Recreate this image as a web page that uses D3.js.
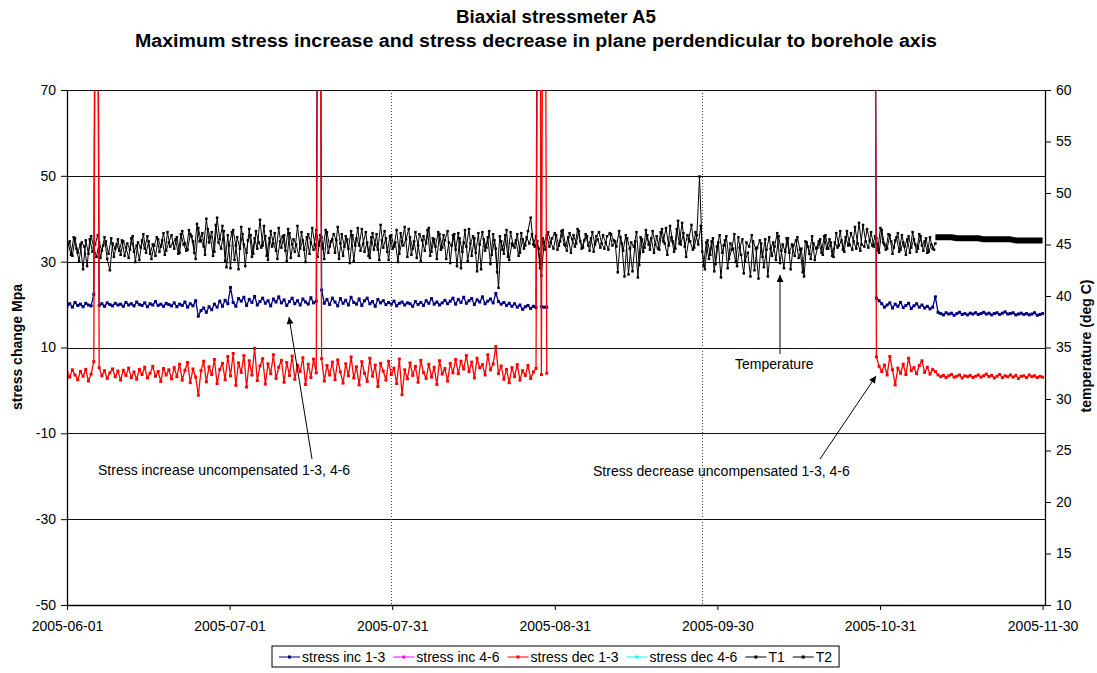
<!DOCTYPE html>
<html>
<head>
<meta charset="utf-8">
<script src="https://cdn.jsdelivr.net/npm/d3@7"></script>
<style>
  body { margin: 0; background: #fff; }
  svg text { font-family: "Liberation Sans", Arial, sans-serif; fill: #000; }
</style>
</head>
<body>
<svg width="1097" height="673"></svg>
<script>
// time axis is in days since 2005-06-01, readings every half day
const sampleStep = 0.5;

const xTickLabels = ["2005-06-01", "2005-07-01", "2005-07-31", "2005-08-31", "2005-09-30", "2005-10-31", "2005-11-30"];
const leftTicks = [70, 50, 30, 10, -10, -30, -50];
const rightTicks = [60, 55, 50, 45, 40, 35, 30, 25, 20, 15, 10];
const eventDays = [60.4, 118.4];

// stress inc 1-3 (MPa), first block from day 0, second block from day 150.5
const incStart1 = 0, incStart2 = 150.5;
const stressInc13a = [
  19.6, 20.2, 19.4, 20.5, 19.8, 20.1, 19.5, 20.3, 19.9, 19.7, 22.4, 200, 19.8, 20.2, 19.6, 20.4, 20.0, 19.7, 20.3, 19.9,
  20.1, 19.6, 20.5, 19.9, 20.2, 19.7, 20.6, 20.0, 19.8, 20.4, 19.5, 20.2, 19.9, 20.7, 19.8, 20.1, 19.6, 20.3, 20.0, 19.7,
  20.4, 19.5, 20.1, 19.8, 20.6, 19.4, 20.2, 19.7, 20.9, 17.3, 18.6, 19.2, 18.2, 19.5, 18.8, 20.1, 19.4, 20.8, 19.6, 21.0,
  20.2, 24.0, 20.5, 19.6, 21.4, 20.8, 21.7, 19.8, 21.2, 20.5, 21.9, 19.9, 20.7, 21.5, 20.3, 20.9, 19.7, 21.3, 20.6, 21.8,
  20.4, 21.1, 19.8, 20.7, 21.5, 20.2, 20.9, 19.9, 21.3, 20.6, 20.1, 21.6, 20.4, 20.8, 200, 23.4, 20.3, 21.2, 20.0, 21.5,
  20.6, 19.7, 21.4, 20.3, 21.0, 19.9, 21.7, 20.5, 20.1, 21.3, 19.8, 20.9, 21.5, 20.2, 20.7, 19.6, 21.2, 20.4, 20.9, 20.0,
  20.5, 20.1, 20.8, 19.7, 20.3, 20.6, 19.9, 20.4, 20.2, 19.6, 20.7, 20.0, 20.5, 19.8, 20.9, 20.3, 21.4, 20.1, 20.6, 19.9,
  20.4, 21.0, 20.2, 20.8, 21.5, 20.1, 21.2, 20.5, 21.7, 20.3, 20.9, 21.4, 20.0, 21.1, 20.6, 21.8, 20.2, 20.8, 21.3, 20.4,
  22.6, 20.7, 20.1, 20.5, 19.8, 20.3, 19.6, 20.2, 19.4, 19.9, 18.9, 19.5, 19.8, 19.1, 19.6, 19.3, 200, 19.5, 19.4, 19.4
];
const stressInc13b = [
  200, 21.5, 20.9, 20.2, 19.4, 19.9, 20.4, 19.2, 20.1, 19.6, 20.5, 19.3, 19.8, 20.3, 19.1, 19.7, 20.2, 19.4, 19.9,
  19.2, 19.6, 19.0, 19.4, 21.8, 18.2, 17.9, 17.6, 18.1, 17.8, 18.0, 17.5, 17.9, 18.2, 17.7, 17.9, 17.6, 18.0, 17.8, 18.1,
  17.7, 17.9, 18.2, 17.8, 18.0, 17.6, 17.9, 18.1, 17.7, 18.0, 18.3, 17.8, 17.9, 18.1, 17.6, 17.8, 18.0, 17.7, 17.9, 17.6,
  17.8, 18.1, 17.5, 17.7, 17.9
];
const stressInc46 = [];

// stress dec 1-3 (MPa), same sampling blocks
const stressDec13a = [
  4.2, 3.1, 4.8, 3.6, 2.5, 4.4, 3.3, 4.9, 2.2, 3.8, 6.7, 200, 5.3, 3.4, 4.6, 2.8, 4.1, 5.0, 3.2, 4.5,
  2.4, 4.7, 3.5, 5.2, 3.0, 4.3, 2.6, 4.9, 3.7, 5.4, 2.9, 4.0, 5.6, 3.3, 4.4, 2.1, 5.1, 3.6, 4.8, 2.7,
  5.3, 3.2, 6.1, 2.4, 4.7, 6.5, 1.8, 5.0, 3.1, -1.1, 4.6, 6.8, 2.0, 5.5, 3.7, 7.2, 1.6, 4.9, 6.3, 2.5,
  7.9, 3.4, 8.6, 1.2, 6.4, 4.2, 8.1, 0.8, 6.9, 3.6, 9.8, 2.3, 5.7, 7.4, 1.5, 6.2, 3.9, 8.3, 2.8, 5.4,
  7.0, 1.9, 6.5, 3.5, 8.0, 2.6, 5.9, 4.4, 7.6, 1.4, 6.1, 3.0, 7.3, 4.1, 200, 7.4, 2.2, 5.8, 3.6, 6.6,
  2.5, 7.1, 4.3, 1.7, 6.2, 3.4, 7.8, 2.9, 5.5, 1.3, 6.7, 4.0, 2.1, 7.5, 3.3, 5.9, 0.9, 6.3, 4.5, 2.4,
  6.8, 3.7, 5.2, 1.6, 7.3, -1.0, 4.8, 2.7, 6.4, 3.5, 5.6, 1.9, 7.0, 4.2, 2.8, 6.1, 3.1, 5.4, 1.4, 6.9,
  3.8, 5.1, 2.2, 6.3, 4.1, 7.2, 3.9, 6.8, 5.0, 8.1, 4.4, 6.6, 2.9, 7.5, 5.3, 6.0, 3.6, 8.3, 4.8, 6.2,
  10.2, 3.9, 5.7, 2.6, 4.9, 1.8, 5.3, 3.2, 6.0, 2.4, 4.6, 3.5, 5.8, 2.8, 4.3, 5.1, 200, 3.7, 200, 4.0
];
const stressDec13b = [
  200, 7.8, 5.6, 4.4, 5.9, 3.6, 7.9, 4.8, 1.3, 5.2, 4.0, 6.1, 3.7, 7.5, 4.6, 5.3, 3.9, 5.8, 6.9,
  4.2, 5.4, 3.8, 4.9, 4.4, 3.6, 3.2, 3.5, 3.0, 3.4, 3.7, 3.1, 3.3, 3.6, 2.9, 3.4, 3.2, 3.5, 3.0, 3.3,
  3.6, 3.1, 3.4, 3.8, 3.2, 3.5, 2.9, 3.3, 3.7, 3.0, 3.4, 3.2, 3.6, 3.1, 3.5, 2.8, 3.3, 3.4, 3.0, 3.6,
  3.2, 3.4, 3.0, 3.3, 3.1
];
const stressDec46 = [];

// temperature (deg C): T1 from day 0 and T2 from day 0.25, both every half day
const t1Start = 0;
const tempT1 = [
  44.5, 45.3, 43.9, 45.6, 44.2, 45.0, 42.6, 45.4, 44.1, 45.8, 44.7, 43.8, 45.2, 44.4, 45.7, 43.6, 42.5, 45.1, 44.6, 45.5,
  44.0, 45.3, 44.7, 43.7, 45.6, 44.3, 44.9, 43.5, 45.4, 44.6, 45.8, 44.1, 45.0, 43.9, 45.5, 44.8, 46.1, 44.4, 45.2, 45.9,
  44.6, 45.7, 44.2, 46.3, 45.1, 44.5, 46.0, 45.3, 43.6, 46.6, 45.4, 44.8, 47.5, 45.2, 46.2, 44.3, 47.6, 45.5, 46.8, 43.4,
  45.9, 42.7, 46.4, 44.9, 42.6, 46.7, 45.0, 44.2, 46.5, 43.8, 45.6, 44.6, 47.4, 44.9, 45.8, 43.5, 46.3, 45.1, 44.4, 46.6,
  44.7, 45.9, 43.4, 46.1, 45.0, 44.3, 46.8, 44.6, 45.4, 43.3, 46.0, 45.2, 44.5, 46.4, 44.9, 45.7, 43.6, 46.2, 44.8, 45.5,
  44.2, 46.7, 45.1, 43.9, 45.8, 44.6, 46.3, 43.4, 45.6, 44.9, 46.5, 44.3, 45.2, 43.7, 46.1, 45.0, 44.5, 46.9, 44.7, 45.6,
  43.5, 45.9, 44.8, 46.4, 44.1, 45.3, 46.7, 43.8, 45.7, 44.6, 46.2, 44.9, 43.4, 45.8, 45.1, 46.6, 44.3, 45.5, 43.6, 46.0,
  44.7, 45.4, 46.3, 43.2, 45.9, 44.5, 46.1, 42.7, 45.2, 44.8, 46.5, 43.9, 45.6, 42.4, 45.0, 46.2, 44.4, 45.7, 43.1, 46.0,
  44.6, 40.8, 45.3, 44.1, 46.4, 43.5, 45.1, 44.7, 46.0, 44.2, 45.5, 44.9, 46.3, 47.6, 45.0, 45.8, 44.6, 42.0, 45.2, 45.9,
  44.8, 45.6, 46.1, 44.5, 45.3, 46.4, 44.9, 45.7, 44.2, 45.9, 45.1, 46.3, 44.6, 45.4, 45.8, 44.4, 46.2, 45.0, 45.5, 44.7,
  45.9, 45.2, 44.5, 46.0, 45.4, 44.8, 46.3, 45.1, 41.9, 45.6, 44.6, 42.4, 45.3, 41.8, 45.7, 44.3, 46.4, 45.0, 45.6, 44.2,
  45.8, 44.5, 46.5, 45.1, 44.0, 46.8, 45.3, 44.6, 47.3, 45.0, 46.1, 43.8, 45.5, 46.9, 44.7, 45.9, 51.6, 44.3, 42.6, 45.4,
  44.0, 45.6, 43.1, 45.2, 41.8, 44.9, 45.8, 43.6, 44.5, 46.0, 42.9, 44.7, 45.5, 43.4, 44.2, 41.9, 45.3, 44.6, 41.7, 45.1,
  42.8, 44.5, 45.7, 43.9, 44.8, 46.1, 43.2, 45.0, 44.3, 45.6, 42.6, 44.9, 45.4, 43.7, 44.6, 41.9, 45.2, 44.1, 45.8, 43.5,
  44.7, 45.5, 44.0, 45.9, 44.6, 45.2, 43.8, 46.1, 44.9, 45.4, 44.3, 46.3, 45.0, 44.5, 46.7, 45.1, 44.4, 46.9, 45.3, 44.7,
  46.2, 44.8, 45.6, 44.2, 46.4, 45.0, 44.6, 45.9, 44.1, 45.4, 46.1, 44.5, 45.2, 44.0, 45.8, 44.7, 45.5, 44.3, 46.0, 44.9,
  45.3, 44.2, 45.7, 44.6, 45.1
];
const t2Start = 0.25;
const tempT2 = [
  45.1, 44.0, 45.7, 44.6, 43.4, 45.2, 44.8, 42.9, 45.5, 44.3, 45.0, 45.9, 43.7, 44.9, 45.3, 44.1, 45.6, 43.8, 45.0, 44.4,
  45.4, 43.9, 45.1, 44.5, 45.8, 43.3, 45.2, 44.7, 46.0, 44.2, 45.3, 43.6, 44.9, 45.7, 44.3, 45.4, 44.0, 46.2, 44.8, 45.1,
  45.5, 44.1, 46.0, 45.0, 44.4, 46.4, 45.8, 44.2, 47.0, 45.3, 46.1, 44.0, 46.5, 45.7, 43.9, 46.9, 45.2, 44.6, 46.3, 42.8,
  44.9, 46.2, 43.5, 45.7, 44.6, 46.0, 42.9, 45.4, 45.9, 44.1, 46.3, 45.2, 44.7, 46.8, 43.9, 45.6, 44.8, 46.1, 43.6, 45.3,
  45.8, 44.4, 46.5, 43.7, 45.5, 45.0, 43.9, 46.2, 44.5, 45.7, 44.1, 46.6, 45.0, 43.8, 45.9, 44.6, 46.4, 44.2, 45.3, 46.0,
  45.4, 43.6, 46.0, 44.8, 45.5, 43.2, 45.9, 44.9, 46.6, 44.4, 45.1, 46.2, 43.9, 45.7, 44.5, 46.0, 43.5, 45.4, 46.3, 44.3,
  45.8, 44.6, 45.2, 43.3, 46.1, 44.9, 45.5, 46.5, 44.0, 45.3, 43.7, 46.0, 45.4, 44.4, 46.4, 43.9, 45.6, 44.8, 46.2, 44.5,
  45.9, 43.6, 45.2, 44.9, 46.0, 42.9, 45.6, 44.3, 46.4, 43.4, 45.1, 45.8, 44.2, 46.1, 42.6, 45.5, 44.7, 46.3, 44.0, 45.4,
  42.3, 45.8, 44.5, 45.9, 43.8, 46.2, 44.9, 45.4, 43.9, 46.1, 44.6, 45.7, 45.1, 46.0, 44.8, 45.3, 42.7, 45.6, 44.5, 46.2,
  45.2, 44.6, 45.9, 44.9, 46.3, 45.0, 44.4, 46.1, 45.5, 44.8, 46.5, 45.3, 44.7, 46.0, 44.9, 45.6, 44.3, 45.8, 46.2, 45.1,
  44.6, 45.8, 46.1, 44.9, 45.3, 42.3, 45.7, 44.4, 45.9, 42.1, 45.2, 44.8, 46.2, 43.0, 45.5, 44.7, 45.9, 44.5, 46.3, 45.0,
  44.6, 46.2, 45.3, 46.6, 44.9, 45.7, 44.3, 46.5, 45.1, 47.1, 44.8, 45.9, 45.3, 44.5, 46.2, 45.0, 46.8, 42.9, 45.2, 43.6,
  45.3, 42.4, 44.8, 45.9, 44.2, 45.4, 42.7, 45.1, 44.6, 43.3, 45.7, 44.0, 42.2, 45.2, 44.8, 45.9, 42.5, 44.7, 45.4, 43.8,
  45.5, 41.9, 44.6, 45.2, 43.5, 45.8, 44.4, 42.7, 45.6, 44.2, 45.0, 43.9, 45.7, 44.5, 42.3, 45.3, 44.8, 43.6, 45.1, 44.6,
  45.3, 44.2, 45.8, 44.6, 45.5, 43.9, 45.2, 44.7, 46.3, 44.5, 45.7, 44.9, 46.1, 45.3, 44.6, 47.1, 45.0, 44.8, 46.5, 45.4,
  44.9, 45.8, 44.4, 46.6, 45.2, 44.5, 46.0, 45.3, 44.7, 45.7, 44.3, 45.9, 44.8, 45.5, 44.2, 46.2, 45.0, 44.6, 45.8, 44.4,
  45.6, 44.3, 45.0, 44.5
];
// from day 162 the logger records densely, shown as daily readings
const tailStart = 162, tailStep = 1;
const tempTail = [45.7, 45.7, 45.7, 45.7, 45.6, 45.6, 45.6, 45.6, 45.6, 45.5, 45.5, 45.5, 45.5, 45.5, 45.5, 45.4, 45.4, 45.4, 45.4, 45.4, 45.4];

var drawChart = function()
{
  let svg = d3.select("svg");
  let margin = { top: 90, left: 67 };
  let plotWidth = 1045 - margin.left;
  let plotHeight = 605 - margin.top;

  let x = d3.scaleLinear().domain([0, 182.45]).range([0, plotWidth]);
  let yLeft = d3.scaleLinear().domain([-50, 70]).range([plotHeight, 0]);
  let yRight = d3.scaleLinear().domain([10, 60]).range([plotHeight, 0]);
  let xTickDays = xTickLabels.map((d, i) => i * 182 / 6);

  function toPoints(values, start, step) {
    return values.map((v, i) => ({ day: start + i * step, value: v }));
  }

  // titles
  svg.append("text").attr("x", 556).attr("y", 23).attr("text-anchor", "middle")
    .style("font-weight", "bold").style("font-size", "18.7px").text("Biaxial stressmeter A5");
  svg.append("text").attr("x", 536).attr("y", 47).attr("text-anchor", "middle")
    .attr("textLength", 802).attr("lengthAdjust", "spacingAndGlyphs")
    .style("font-weight", "bold").style("font-size", "18.7px")
    .text("Maximum stress increase and stress decrease in plane perdendicular to borehole axis");

  let plot = svg.append("g").attr("transform", "translate(" + margin.left + "," + margin.top + ")");

  let defs = svg.append("defs");
  defs.append("clipPath").attr("id", "plot-clip")
    .append("rect").attr("x", 0).attr("y", 0).attr("width", plotWidth).attr("height", plotHeight);

  // horizontal grid from the stress axis
  plot.append("g").selectAll("line").data(leftTicks).join("line")
    .attr("x1", 0).attr("x2", plotWidth)
    .attr("y1", d => Math.round(yLeft(d)) + 0.5).attr("y2", d => Math.round(yLeft(d)) + 0.5)
    .attr("stroke", "#111").attr("stroke-width", 1);

  // dotted markers
  plot.append("g").selectAll("line").data(eventDays).join("line")
    .attr("x1", d => Math.round(x(d)) + 0.5).attr("x2", d => Math.round(x(d)) + 0.5)
    .attr("y1", 0).attr("y2", plotHeight)
    .attr("stroke", "#444").attr("stroke-width", 1).attr("stroke-dasharray", "1,2");

  let series = plot.append("g").attr("clip-path", "url(#plot-clip)");

  function drawSeries(points, yScale, color, width, markerSize) {
    let line = d3.line().x(d => x(d.day)).y(d => yScale(d.value));
    series.append("path").datum(points)
      .attr("d", line).attr("fill", "none")
      .attr("stroke", color).attr("stroke-width", width).attr("stroke-linejoin", "round");
    if (markerSize > 0) {
      series.append("g").selectAll("rect").data(points).join("rect")
        .attr("x", d => x(d.day) - markerSize / 2)
        .attr("y", d => yScale(d.value) - markerSize / 2)
        .attr("width", markerSize).attr("height", markerSize)
        .attr("fill", color);
    }
  }

  drawSeries(toPoints(tempT2, t2Start, sampleStep), yRight, "#000", 1, 2.5);
  drawSeries(toPoints(tempT1, t1Start, sampleStep), yRight, "#000", 1, 2.5);
  drawSeries(toPoints(tempTail, tailStart, tailStep), yRight, "#000", 6, 0);
  drawSeries(toPoints(stressInc13a, incStart1, sampleStep), yLeft, "#000080", 1.3, 3);
  drawSeries(toPoints(stressInc13b, incStart2, sampleStep), yLeft, "#000080", 1.3, 3);
  drawSeries(toPoints(stressDec13a, incStart1, sampleStep), yLeft, "#ff0000", 1.3, 3);
  drawSeries(toPoints(stressDec13b, incStart2, sampleStep), yLeft, "#ff0000", 1.3, 3);

  // axes
  let xAxis = d3.axisBottom(x).tickValues(xTickDays).tickFormat((d, i) => xTickLabels[i])
    .tickSize(5).tickSizeOuter(0).tickPadding(11);
  let xGroup = plot.append("g").attr("transform", "translate(0," + plotHeight + ")").call(xAxis);

  let yAxis = d3.axisLeft(yLeft).tickValues(leftTicks).tickFormat(d => String(d))
    .tickSize(6).tickSizeOuter(0).tickPadding(5);
  let yGroup = plot.append("g").call(yAxis);

  let y2Axis = d3.axisRight(yRight).tickValues(rightTicks).tickFormat(d => String(d))
    .tickSize(6).tickSizeOuter(0).tickPadding(5);
  let y2Group = plot.append("g").attr("transform", "translate(" + plotWidth + ",0)").call(y2Axis);

  [xGroup, yGroup, y2Group].forEach(g => {
    g.selectAll("text").style("font-size", "14px").style("font-family", "Liberation Sans, Arial, sans-serif");
    g.selectAll("line").attr("stroke", "#000");
    g.select(".domain").attr("stroke", "#000").attr("stroke-width", 1.3);
  });

  svg.append("text")
    .attr("transform", "translate(22,347) rotate(-90)")
    .attr("text-anchor", "middle").style("font-weight", "bold").style("font-size", "14px")
    .text("stress change Mpa");
  svg.append("text")
    .attr("transform", "translate(1091,346) rotate(-90)")
    .attr("text-anchor", "middle").style("font-weight", "bold").style("font-size", "14px")
    .text("temperature (deg C)");

  // annotations with arrows
  defs.append("marker").attr("id", "arrow")
    .attr("viewBox", "0 0 10 10").attr("refX", 10).attr("refY", 5)
    .attr("markerWidth", 9).attr("markerHeight", 7).attr("markerUnits", "userSpaceOnUse")
    .attr("orient", "auto")
    .append("path").attr("d", "M0,0 L10,5 L0,10 Z").attr("fill", "#000");

  let notes = [
    { text: "Stress increase uncompensated 1-3, 4-6", tx: 98, ty: 475, from: [312, 459], to: [289, 317] },
    { text: "Temperature", tx: 735, ty: 369, from: [780, 354], to: [780, 275] },
    { text: "Stress decrease uncompensated 1-3, 4-6", tx: 593, ty: 476, from: [820, 459], to: [876, 376] }
  ];
  notes.forEach(n => {
    svg.append("text").attr("x", n.tx).attr("y", n.ty).style("font-size", "14px").text(n.text);
    svg.append("line").attr("x1", n.from[0]).attr("y1", n.from[1]).attr("x2", n.to[0]).attr("y2", n.to[1])
      .attr("stroke", "#000").attr("stroke-width", 1).attr("marker-end", "url(#arrow)");
  });

  // legend
  let legendItems = [
    { name: "stress inc 1-3", color: "#000080" },
    { name: "stress inc 4-6", color: "#ff00ff" },
    { name: "stress dec 1-3", color: "#ff0000" },
    { name: "stress dec 4-6", color: "#00ffff" },
    { name: "T1", color: "#000" },
    { name: "T2", color: "#000" }
  ];
  let legend = svg.append("g");
  let box = legend.append("rect").attr("x", 272).attr("y", 646).attr("height", 21)
    .attr("fill", "#fff").attr("stroke", "#000").attr("stroke-width", 1);
  let lx = 279, ly = 657;
  legendItems.forEach(item => {
    legend.append("line").attr("x1", lx).attr("x2", lx + 21).attr("y1", ly).attr("y2", ly)
      .attr("stroke", item.color).attr("stroke-width", 1);
    legend.append("rect").attr("x", lx + 9).attr("y", ly - 1.5).attr("width", 3).attr("height", 3)
      .attr("fill", item.color);
    let t = legend.append("text").attr("x", lx + 23).attr("y", ly + 5)
      .style("font-size", "14px").text(item.name);
    lx += 23 + t.node().getComputedTextLength() + 8;
  });
  box.attr("width", lx - 8 + 7 - 272);
}

drawChart();
</script>
</body>
</html>
